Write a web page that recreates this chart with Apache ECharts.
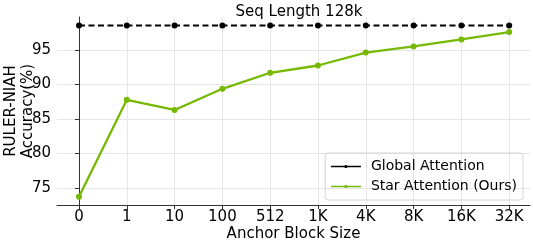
<!DOCTYPE html>
<html><head><meta charset="utf-8">
<script src="https://cdn.jsdelivr.net/npm/echarts@6/dist/echarts.min.js"></script>
<style>html,body{margin:0;padding:0;background:#fff}#c{width:533px;height:242px}</style>
</head><body><div id="c"></div>
<script>
var categories = ['0','1','10','100','512','1K','4K','8K','16K','32K'];
var globalAttention = [98.5,98.5,98.5,98.5,98.5,98.5,98.5,98.5,98.5,98.5];
var starAttention = [73.75,87.77,86.3,89.36,91.68,92.73,94.6,95.48,96.5,97.56];
var yTicks = [75,80,85,90,95];

var font = 'DejaVu Sans';
var chart = echarts.init(document.getElementById('c'), null, {renderer:'canvas'});
function pts(arr){ return arr.map(function(v,i){ return [i,v]; }); }
var xIdx = categories.map(function(c,i){ return i; });
chart.setOption({
  animation:false,
  title:{text:'Seq Length 128k', left:294, top:0, textAlign:'center',
    textStyle:{fontFamily:font, fontSize:15, fontWeight:'normal', color:'#000'}},
  grid:{left:57, right:3, top:17, bottom:37, containLabel:false, outerBoundsMode:'none'},
  legend:{
    right:10, top:153, orient:'vertical', itemGap:5, itemWidth:30, itemHeight:4,
    borderColor:'#d4d4d4', borderWidth:1, borderRadius:3, padding:[6,6,6,5],
    lineStyle:{width:1.5, type:'solid'},
    textStyle:{fontFamily:font, fontSize:14, color:'#000', padding:[0,0,0,5], lineHeight:15},
    data:['Global Attention','Star Attention (Ours)']
  },
  xAxis:{type:'value', min:-0.46, max:9.435, name:'Anchor Block Size', nameLocation:'middle', nameGap:22,
    nameMoveOverlap:false,
    nameTextStyle:{fontFamily:font, fontSize:15, color:'#000'},
    axisLine:{lineStyle:{color:'#333', width:1}},
    axisTick:{show:true, customValues:xIdx, length:4, lineStyle:{color:'#333'}},
    axisLabel:{customValues:xIdx, fontFamily:font, fontSize:15, color:'#000', margin:5,
      formatter:function(v){ return categories[Math.round(v)]; }},
    splitLine:{show:true, lineStyle:{color:'#e6e6e6', width:1}}
  },
  yAxis:{type:'value', min:72.57, max:99.74, name:'RULER-NIAH\nAccuracy(%)', nameLocation:'middle', nameGap:20,
    nameRotate:90, nameMoveOverlap:false,
    nameTextStyle:{fontFamily:font, fontSize:15, color:'#000', lineHeight:17},
    axisLine:{show:true, lineStyle:{color:'#333', width:1}},
    axisTick:{show:true, customValues:yTicks, length:4, lineStyle:{color:'#333'}},
    axisLabel:{customValues:yTicks, fontFamily:font, fontSize:15, color:'#000', margin:6},
    splitLine:{show:true, lineStyle:{color:'#e6e6e6', width:1}}
  },
  series:[
    {name:'Global Attention', type:'line', data:pts(globalAttention), symbol:'circle', symbolSize:6,
      itemStyle:{color:'#000'}, lineStyle:{color:'#000', width:2, type:[6,3.5]}, z:3},
    {name:'Star Attention (Ours)', type:'line', data:pts(starAttention), symbol:'circle', symbolSize:6,
      itemStyle:{color:'#76b900'}, lineStyle:{color:'#76b900', width:2.3}, z:2}
  ]
});
</script></body></html>
